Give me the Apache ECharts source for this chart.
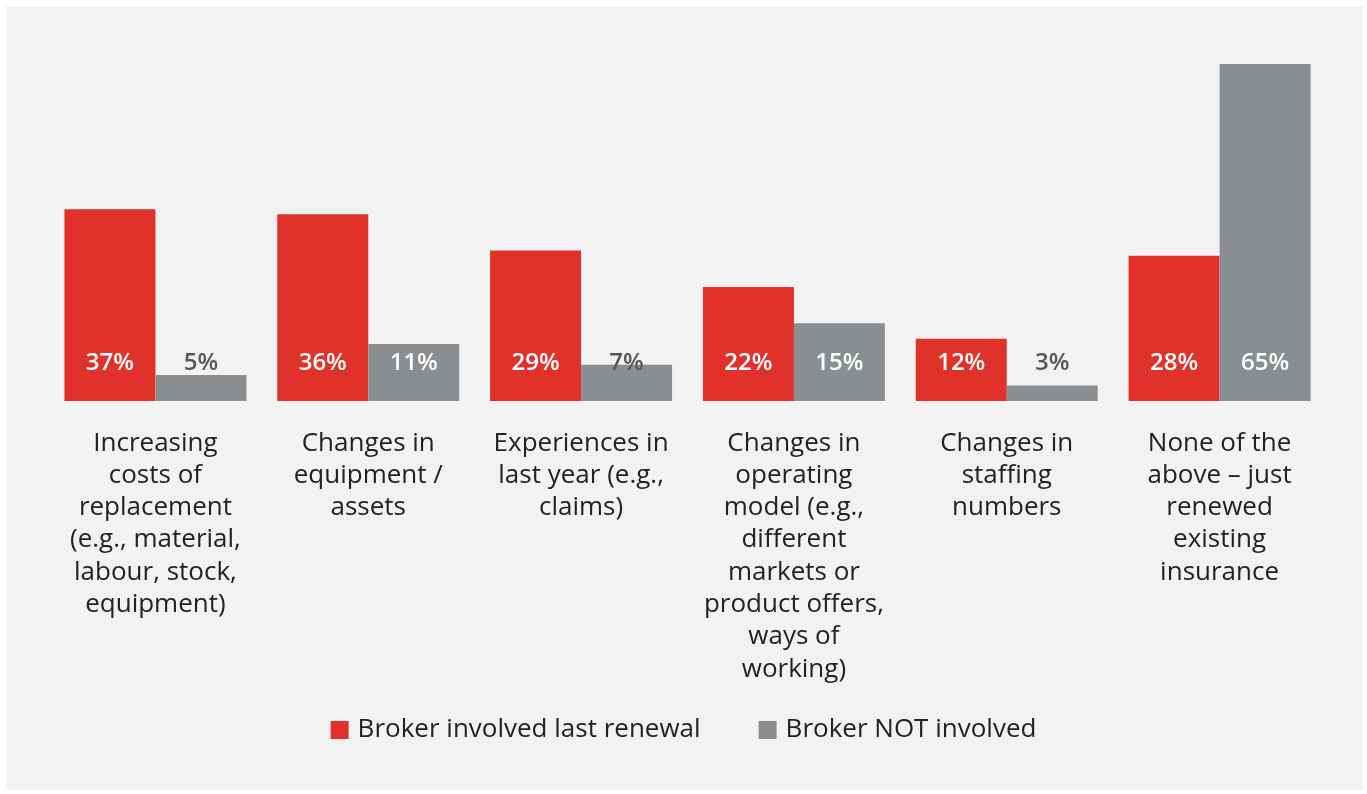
<!DOCTYPE html>
<html>
<head>
<meta charset="utf-8">
<script src="https://cdn.jsdelivr.net/npm/echarts@6/dist/echarts.min.js"></script>
<style>
  html, body { margin: 0; padding: 0; background: #ffffff; }
  #chart { width: 1367px; height: 794px; }
</style>
</head>
<body>
<div id="chart"></div>
<script>
// Reasons for changing insurance cover at last renewal, by broker involvement
const categories = [
  'Increasing\ncosts of\nreplacement\n(e.g., material,\nlabour, stock,\nequipment)',
  'Changes in\nequipment /\nassets',
  'Experiences in\nlast year (e.g.,\nclaims)',
  'Changes in\noperating\nmodel (e.g.,\ndifferent\nmarkets or\nproduct offers,\nways of\nworking)',
  'Changes in\nstaffing\nnumbers',
  'None of the\nabove – just\nrenewed\nexisting\ninsurance'
];
const seriesNames = ['Broker involved last renewal', 'Broker NOT involved'];
const brokerInvolved = [37, 36, 29, 22, 12, 28];
const brokerNotInvolved = [5, 11, 7, 15, 3, 65];

const RED = '#e0322a';
const GREY = '#8a8e91';
const FONT = '"Open Sans"';

// Labels sit at a fixed height near the baseline; short bars leave them on the panel
const labelFloor = 9;
function labelled(values) {
  return values.map(v => ({
    value: v,
    label: { color: v >= labelFloor ? '#ffffff' : '#555759' }
  }));
}

const barLabel = {
  show: true,
  position: 'insideBottom',
  distance: 26,
  formatter: '{c}%',
  fontFamily: FONT,
  fontSize: 24,
  fontWeight: 600
};

const chart = echarts.init(document.getElementById('chart'), null, { renderer: 'canvas' });
chart.setOption({
  backgroundColor: '#ffffff',
  animation: false,
  textStyle: { fontFamily: FONT },
  graphic: [{
    type: 'rect',
    left: 6, top: 6,
    shape: { width: 1357, height: 784 },
    style: { fill: '#f1f2f1' },
    z: -10
  }],
  legend: {
    data: seriesNames,
    bottom: 46,
    left: 'center',
    itemWidth: 18,
    itemHeight: 18,
    itemGap: 58,
    icon: 'rect',
    textStyle: { fontFamily: FONT, fontSize: 26, color: '#222222', padding: [0, 0, 0, 4] }
  },
  grid: { left: 49, right: 41, top: 38, bottom: 393, containLabel: false },
  xAxis: {
    type: 'category',
    data: categories,
    axisLine: { show: false },
    axisTick: { show: false },
    axisLabel: {
      interval: 0,
      margin: 26,
      fontFamily: FONT,
      fontSize: 26,
      lineHeight: 32.3,
      color: '#222222',
      align: 'center',
      verticalAlign: 'top'
    }
  },
  yAxis: {
    type: 'value',
    min: 0,
    max: 70,
    show: false,
    splitLine: { show: false }
  },
  series: [
    {
      name: seriesNames[0],
      type: 'bar',
      data: labelled(brokerInvolved),
      itemStyle: { color: RED },
      barGap: '0%',
      barCategoryGap: '14.5%',
      label: barLabel
    },
    {
      name: seriesNames[1],
      type: 'bar',
      data: labelled(brokerNotInvolved),
      itemStyle: { color: GREY },
      barGap: '0%',
      barCategoryGap: '14.5%',
      label: barLabel
    }
  ]
});
</script>
</body>
</html>
